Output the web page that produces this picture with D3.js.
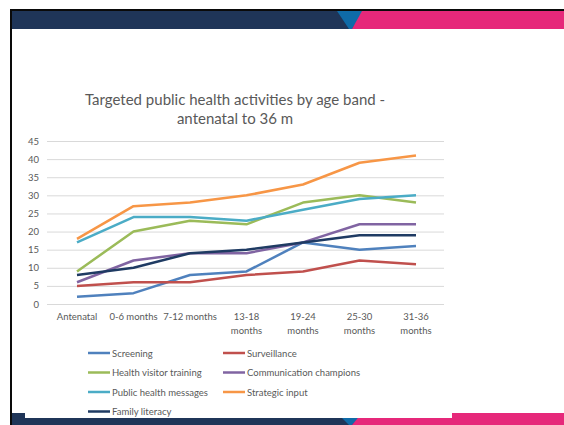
<!DOCTYPE html>
<html>
<head>
<meta charset="utf-8">
<script src="https://cdn.jsdelivr.net/npm/d3@7"></script>
<style>
  html, body { margin: 0; padding: 0; background: #fff; }
  svg { display: block; }
  text { font-family: Lato, "Open Sans", sans-serif; fill: #595959; }
</style>
</head>
<body>
<svg id="chart" width="564" height="425"></svg>
<script>
// Age bands (x categories), with their two-line labels
const ageBands = ["Antenatal", "0-6 months", "7-12 months", "13-18 months", "19-24 months", "25-30 months", "31-36 months"];
const bandLabels = [["Antenatal"], ["0-6 months"], ["7-12 months"], ["13-18", "months"], ["19-24", "months"], ["25-30", "months"], ["31-36", "months"]];

// Number of activities per age band
const screening              = [2, 3, 8, 9, 17, 15, 16];
const surveillance           = [5, 6, 6, 8, 9, 12, 11];
const healthVisitorTraining  = [9, 20, 23, 22, 28, 30, 28];
const communicationChampions = [6, 12, 14, 14, 17, 22, 22];
const publicHealthMessages   = [17, 24, 24, 23, 26, 29, 30];
const strategicInput         = [18, 27, 28, 30, 33, 39, 41];
const familyLiteracy         = [8, 10, 14, 15, 17, 19, 19];

const yTicks = [0, 5, 10, 15, 20, 25, 30, 35, 40, 45];

const series = [
  { name: "Screening", values: screening, color: "#4F81BD" },
  { name: "Surveillance", values: surveillance, color: "#C0504D" },
  { name: "Health visitor training", values: healthVisitorTraining, color: "#9BBB59" },
  { name: "Communication champions", values: communicationChampions, color: "#8064A2" },
  { name: "Public health messages", values: publicHealthMessages, color: "#4BACC6" },
  { name: "Strategic input", values: strategicInput, color: "#F79646" },
  { name: "Family literacy", values: familyLiteracy, color: "#1F3B63" }
];

const svg = d3.select("#chart");

// ---- slide frame: dark edge, top and bottom banners ----
const navy = "#1F3558", pink = "#E6287A", teal = "#0F6BA8";
svg.append("rect").attr("x", 10).attr("y", 9).attr("width", 554).attr("height", 416).attr("fill", "#0a0a0a");
svg.append("rect").attr("x", 12).attr("y", 11).attr("width", 552).attr("height", 414).attr("fill", "#fff");

function banner(y0, y1) {
  svg.append("rect").attr("x", 12).attr("y", y0).attr("width", 552).attr("height", y1 - y0).attr("fill", navy);
  svg.append("polygon").attr("points", `337,${y0} 364,${y0} 352,${y1} 349,${y1}`).attr("fill", teal);
  svg.append("polygon").attr("points", `362,${y0} 564,${y0} 564,${y1} 352,${y1}`).attr("fill", pink);
}
banner(11, 29);
banner(413, 425);
// chart panel overlapping the bottom banner
svg.append("rect").attr("x", 25).attr("y", 300).attr("width", 427).attr("height", 118).attr("fill", "#fff");

// ---- title ----
const title = svg.append("text").attr("text-anchor", "middle").style("font-size", "15px");
title.append("tspan").attr("x", 235).attr("y", 105).text("Targeted public health activities by age band -");
title.append("tspan").attr("x", 235).attr("y", 124).text("antenatal to 36 m");

// ---- scales ----
const x = d3.scalePoint().domain(ageBands).range([77, 416]);
const y = d3.scaleLinear().domain([0, 45]).range([304, 141]);
const gridLeft = 47, gridRight = 444;

// gridlines
svg.append("g").selectAll("line").data(yTicks).join("line")
  .attr("x1", gridLeft).attr("x2", gridRight)
  .attr("y1", d => y(d) + 0.5).attr("y2", d => y(d) + 0.5)
  .attr("stroke", "#D9D9D9").attr("stroke-width", 1);

// y axis labels
const yAxis = d3.axisLeft(y).tickValues(yTicks).tickSize(0).tickPadding(0);
const gy = svg.append("g").attr("transform", "translate(39,0)").call(yAxis);
gy.select(".domain").remove();
gy.selectAll("text").style("font-size", "9.5px").attr("fill", "#595959").style("font-family", "Lato, sans-serif");

// x axis labels (wrapped onto two lines)
const gx = svg.append("g");
gx.selectAll("text").data(ageBands).join("text")
  .attr("text-anchor", "middle")
  .style("font-size", "9.5px")
  .each(function (d, i) {
    const t = d3.select(this);
    bandLabels[i].forEach((line, j) => {
      t.append("tspan").attr("x", x(d)).attr("y", 320 + j * 14).text(line);
    });
  });

// ---- lines ----
const line = d3.line().x((d, i) => x(ageBands[i])).y(d => y(d));
svg.append("g").selectAll("path").data(series).join("path")
  .attr("d", d => line(d.values))
  .attr("fill", "none")
  .attr("stroke", d => d.color)
  .attr("stroke-width", 2.5)
  .attr("stroke-linejoin", "round");

// ---- legend ----
const legend = svg.append("g");
const item = legend.selectAll("g").data(series).join("g")
  .attr("transform", (d, i) => `translate(${88 + (i % 2) * 135},${353 + Math.floor(i / 2) * 19.5})`);
item.append("line").attr("x1", 0).attr("x2", 22).attr("y1", 0).attr("y2", 0)
  .attr("stroke", d => d.color).attr("stroke-width", 2.5);
item.append("text").attr("x", 24).attr("y", 3.5).style("font-size", "9.5px").text(d => d.name);
</script>
</body>
</html>
